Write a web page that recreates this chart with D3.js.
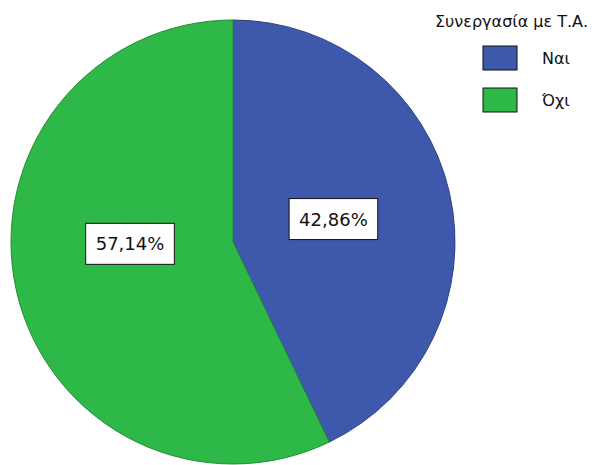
<!DOCTYPE html>
<html lang="el">
<head>
    <meta charset="UTF-8">
    <title>Συνεργασία με Τ.Α.</title>
    <script src="https://d3js.org/d3.v7.min.js"></script>
    <style>
        body { margin: 0; background: #fff; }
        text { font-family: "DejaVu Sans", sans-serif; fill: #111; }
    </style>
</head>
<body>
<script>
    const width = 601;
    const height = 465;

    // data
    const legendTitle = "Συνεργασία με Τ.Α.";
    const categories = ["Ναι", "Όχι"];
    const values = [42.86, 57.14];
    const labels = ["42,86%", "57,14%"];
    const colors = ["#3e58ac", "#2eb848"];

    const cx = 233, cy = 242, radius = 222;

    const svg = d3.select("body").append("svg")
            .attr("width", width).attr("height", height);

    const color = d3.scaleOrdinal().domain(categories).range(colors);

    const pie = d3.pie()
            .value(d => d.value)
            .sort(null);

    const arc = d3.arc().innerRadius(0).outerRadius(radius);

    const data = categories.map((c, i) => ({ cat: c, value: values[i], label: labels[i] }));
    const arcs = pie(data);

    const g = svg.append("g").attr("transform", `translate(${cx},${cy})`);

    g.selectAll("path.slice")
            .data(arcs)
            .enter()
            .append("path")
            .attr("class", "slice")
            .attr("d", arc)
            .style("fill", d => color(d.data.cat))
            .style("stroke", d => d3.color(color(d.data.cat)).darker(0.8))
            .style("stroke-width", 1);

    // label placement: blue at its mid angle, green nudged towards the horizontal like SPSS does
    function labelPos(d, i) {
        let a = (d.startAngle + d.endAngle) / 2;
        if (i === 1) a = a + (3 * Math.PI / 2 - a) * 0.92;
        const r = 103;
        return [Math.sin(a) * r, -Math.cos(a) * r];
    }

    const lab = g.selectAll("g.lab")
            .data(arcs)
            .enter()
            .append("g")
            .attr("class", "lab")
            .attr("transform", (d, i) => `translate(${labelPos(d, i)})`);

    lab.append("text")
            .attr("text-anchor", "middle")
            .attr("dy", "0.36em")
            .style("font-size", "18px")
            .text(d => d.data.label);

    lab.each(function() {
        const t = d3.select(this).select("text");
        const b = t.node().getBBox();
        d3.select(this).insert("rect", "text")
                .attr("x", b.x - 10)
                .attr("y", b.y - 10)
                .attr("width", b.width + 20)
                .attr("height", b.height + 20)
                .style("fill", "#fff")
                .style("stroke", "#111")
                .style("stroke-width", 1);
    });

    // legend
    const legend = svg.append("g").attr("transform", "translate(435,0)");
    legend.append("text")
            .attr("x", 0).attr("y", 27)
            .style("font-size", "16px")
            .text(legendTitle);

    const item = legend.selectAll("g.item")
            .data(categories)
            .enter()
            .append("g")
            .attr("class", "item")
            .attr("transform", (d, i) => `translate(48,${46 + i * 42})`);

    item.append("rect")
            .attr("width", 34).attr("height", 24)
            .style("fill", d => color(d))
            .style("stroke", "#111")
            .style("stroke-width", 1);

    item.append("text")
            .attr("x", 59).attr("y", 18)
            .style("font-size", "16px")
            .text(d => d);
</script>
</body>
</html>
